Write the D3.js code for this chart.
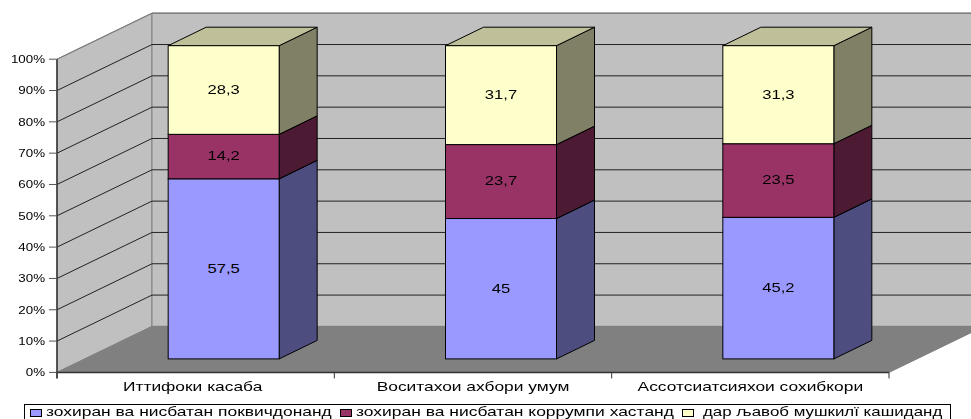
<!DOCTYPE html>
<html>
<head>
<meta charset="utf-8">
<script src="https://cdn.jsdelivr.net/npm/d3@7"></script>
<style>
    html, body { margin: 0; padding: 0; background: #fff; overflow: hidden; }
    svg { display: block; filter: blur(0.35px); }
    text { font-family: "Liberation Sans", Arial, sans-serif; fill: #000; }
</style>
</head>
<body>
<div id="chart"></div>
<script>
let categories = ["Иттифоки касаба", "Воситахои ахбори умум", "Ассотсиатсияхои сохибкори"];
let seriesNames = ["зохиран ва нисбатан поквичдонанд", "зохиран ва нисбатан коррумпи хастанд", "дар љавоб мушкилї кашиданд"];
let series1 = [57.5, 45, 45.2];
let series2 = [14.2, 23.7, 23.5];
let series3 = [28.3, 31.7, 31.3];
let tickValues = [0, .1, .2, .3, .4, .5, .6, .7, .8, .9, 1];

let frontColors = ["#9999ff", "#993366", "#ffffcc"];
let sideColors = ["#4d4d80", "#4d1a33", "#808066"];
let topColors = ["#4d4d80", "#4d1a33", "#bfbf99"];

let width = 971, height = 419;

// 3d offsets of the box and of the bars inside it
let depthX = 95, depthY = 46;
let barShiftX = 28, barShiftY = 13.5;
let barDepthX = 38, barDepthY = 18.5;

let svg = d3.select("#chart").append("svg")
    .attr("width", width)
    .attr("height", height);

let x = d3.scaleBand().domain(categories).range([57, 889]);
let y = d3.scaleLinear().domain([0, 1]).range([372.4, 59.2]);
let barWidth = 111;

let rows = categories.map(function (c, i) {
    return { cat: c, s0: series1[i], s1: series2[i], s2: series3[i] };
});
let stacked = d3.stack()
    .keys(["s0", "s1", "s2"])
    .offset(d3.stackOffsetExpand)(rows);

function poly(points) {
    return points.map(function (p) { return p.join(","); }).join(" ");
}

// text is wider than normal in the picture, so stretch it sideways
function stretched(parent, px, py, str, size, sx, anchor) {
    return parent.append("text")
        .attr("transform", "translate(" + px + "," + py + ") scale(" + sx + ",1)")
        .attr("font-size", size)
        .attr("text-anchor", anchor)
        .text(str);
}

let x0 = x.range()[0], x1 = x.range()[1];
let yBase = y(0), yTop = y(1);

// walls and floor
svg.append("polygon")
    .attr("points", poly([[x0, yTop], [x0 + depthX, yTop - depthY], [x0 + depthX, yBase - depthY], [x0, yBase]]))
    .attr("fill", "#c0c0c0").attr("stroke", "#808080");
svg.append("polygon")
    .attr("points", poly([[x0 + depthX, yTop - depthY], [x1 + depthX, yTop - depthY], [x1 + depthX, yBase - depthY], [x0 + depthX, yBase - depthY]]))
    .attr("fill", "#c0c0c0").attr("stroke", "#808080");
svg.append("polygon")
    .attr("points", poly([[x0, yBase], [x1, yBase], [x1 + depthX, yBase - depthY], [x0 + depthX, yBase - depthY]]))
    .attr("fill", "#808080").attr("stroke", "#808080");

// gridlines
let grid = svg.append("g").selectAll("polyline")
    .data(tickValues.filter(function (d) { return d > 0 && d < 1; }))
    .enter()
    .append("polyline")
    .attr("fill", "none")
    .attr("stroke", "#222")
    .attr("stroke-width", 1)
    .attr("points", function (d) {
        return poly([[x0, y(d)], [x0 + depthX, y(d) - depthY], [x1 + depthX, y(d) - depthY]]);
    });

svg.append("line")
    .attr("x1", x0 + depthX).attr("x2", x1 + depthX)
    .attr("y1", yTop - depthY).attr("y2", yTop - depthY)
    .attr("stroke", "#808080").attr("stroke-width", 1.5);
svg.append("line")
    .attr("x1", x0).attr("y1", yTop)
    .attr("x2", x0 + depthX).attr("y2", yTop - depthY)
    .attr("stroke", "#808080").attr("stroke-width", 1.2);

// bars
let barGroups = svg.append("g").selectAll("g")
    .data(stacked)
    .enter()
    .append("g");

let segs = barGroups.selectAll("g")
    .data(function (s) {
        return s.map(function (d, i) {
            return { key: s.index, lo: d[0], hi: d[1], cat: categories[i], val: d.data[s.key] };
        });
    })
    .enter()
    .append("g");

function left(d) { return x(d.cat) + x.bandwidth() / 2 - barWidth / 2 + barShiftX; }
function right(d) { return left(d) + barWidth; }
function lowY(d) { return y(d.lo) - barShiftY; }
function highY(d) { return y(d.hi) - barShiftY; }

segs.append("polygon")
    .attr("fill", function (d) { return sideColors[d.key]; })
    .attr("stroke", "#000")
    .attr("points", function (d) {
        return poly([[right(d), highY(d)], [right(d) + barDepthX, highY(d) - barDepthY], [right(d) + barDepthX, lowY(d) - barDepthY], [right(d), lowY(d)]]);
    });
segs.append("polygon")
    .attr("fill", function (d) { return topColors[d.key]; })
    .attr("stroke", "#000")
    .attr("points", function (d) {
        return poly([[left(d), highY(d)], [right(d), highY(d)], [right(d) + barDepthX, highY(d) - barDepthY], [left(d) + barDepthX, highY(d) - barDepthY]]);
    });
segs.append("rect")
    .attr("fill", function (d) { return frontColors[d.key]; })
    .attr("stroke", "#000")
    .attr("x", left)
    .attr("y", highY)
    .attr("width", barWidth)
    .attr("height", function (d) { return lowY(d) - highY(d); });
segs.each(function (d) {
    stretched(d3.select(this), left(d) + barWidth / 2, (lowY(d) + highY(d)) / 2 + 3.8,
        String(d.val).replace(".", ","), 12.5, 1.33, "middle");
});

// axes
svg.append("line")
    .attr("x1", x0).attr("x2", x0).attr("y1", yTop).attr("y2", yBase + 6)
    .attr("stroke", "#333").attr("stroke-width", 1.5);
svg.append("line")
    .attr("x1", x0).attr("x2", x1).attr("y1", yBase).attr("y2", yBase)
    .attr("stroke", "#333").attr("stroke-width", 1.5);

let yTicks = svg.append("g");
tickValues.forEach(function (v) {
    yTicks.append("line")
        .attr("x1", x0 - 8).attr("x2", x0)
        .attr("y1", y(v)).attr("y2", y(v))
        .attr("stroke", "#555");
    stretched(yTicks, 45, y(v) + 3.8, d3.format(".0%")(v), 10.5, 1.27, "end");
});

let xEdges = categories.map(function (c) { return x(c); }).concat([x1]);
svg.append("g").selectAll("line")
    .data(xEdges)
    .enter()
    .append("line")
    .attr("x1", function (d) { return d; })
    .attr("x2", function (d) { return d; })
    .attr("y1", yBase)
    .attr("y2", yBase + 6)
    .attr("stroke", "#333");

let labelNudge = [-3, 0, 0];
categories.forEach(function (c, i) {
    stretched(svg, x(c) + x.bandwidth() / 2 + labelNudge[i], 391, c, 12.5, 1.39, "middle");
});

// legend
let legend = svg.append("g");
legend.append("rect")
    .attr("x", 24.5).attr("y", 404.5)
    .attr("width", 926).attr("height", 20)
    .attr("fill", "#fff").attr("stroke", "#000");

let legendSwatch = [31, 341, 683];
let legendText = [46, 356, 703];
let legendStretch = [1.453, 1.456, 1.41];
seriesNames.forEach(function (n, i) {
    legend.append("rect")
        .attr("x", legendSwatch[i] - .5).attr("y", 409.5)
        .attr("width", 11).attr("height", 7)
        .attr("fill", frontColors[i]).attr("stroke", "#000");
    stretched(legend, legendText[i], 416, n, 12, legendStretch[i], "start");
});
</script>
</body>
</html>
